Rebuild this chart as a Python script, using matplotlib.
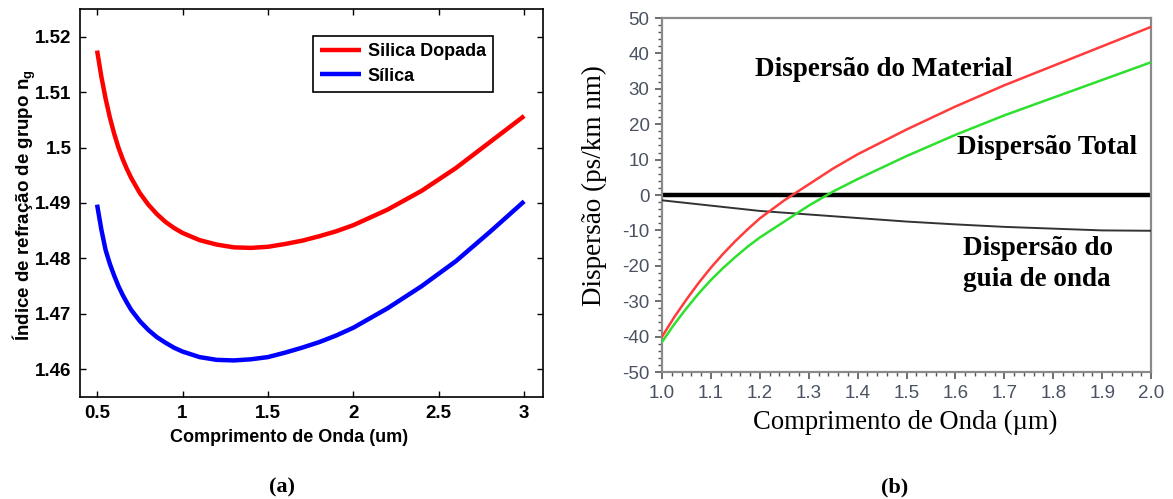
import numpy as np
import matplotlib
matplotlib.use("Agg")
import matplotlib.pyplot as plt
from matplotlib.ticker import MultipleLocator

# (a) group index vs wavelength
wl_a = [0.500, 0.525, 0.550, 0.575, 0.600, 0.625, 0.650, 0.675, 0.700, 0.750,
        0.800, 0.850, 0.900, 0.950, 1.00, 1.10, 1.20, 1.30, 1.40, 1.50, 1.60,
        1.70, 1.80, 1.90, 2.00, 2.20, 2.40, 2.60, 2.80, 3.00]
ng_dopada = [1.5175, 1.5128, 1.5088, 1.5054, 1.5025, 1.5000, 1.4979, 1.4961,
             1.4945, 1.4918, 1.4897, 1.4880, 1.4866, 1.4855, 1.4846, 1.4833,
             1.4825, 1.4820, 1.4819, 1.4821, 1.4826, 1.4832, 1.4840, 1.4849,
             1.4860, 1.4888, 1.4922, 1.4963, 1.5010, 1.5057]
ng_silica = [1.4897, 1.4852, 1.4815, 1.4790, 1.4769, 1.4750, 1.4734, 1.4720,
             1.4707, 1.4687, 1.4671, 1.4658, 1.4648, 1.4639, 1.4632, 1.4622,
             1.4617, 1.4616, 1.4618, 1.4622, 1.4630, 1.4639, 1.4649, 1.4661,
             1.4675, 1.4710, 1.4750, 1.4795, 1.4848, 1.4903]
yticks_a = [1.46, 1.47, 1.48, 1.49, 1.50, 1.51, 1.52]
yticklabels_a = ["1.46", "1.47", "1.48", "1.49", "1.5", "1.51", "1.52"]
xticks_a = [0.5, 1, 1.5, 2, 2.5, 3]
xticklabels_a = ["0.5", "1", "1.5", "2", "2.5", "3"]

# (b) dispersion vs wavelength
wl_b = [1.000, 1.025, 1.050, 1.075, 1.100, 1.125, 1.150, 1.175, 1.200, 1.250,
        1.300, 1.350, 1.400, 1.500, 1.600, 1.700, 1.800, 1.900, 2.000]
d_material = [-40.0, -34.5, -29.5, -24.8, -20.5, -16.6, -13.0, -9.7, -6.6,
              -1.5, 3.0, 7.5, 11.5, 18.5, 25.0, 31.0, 36.5, 42.0, 47.5]
d_total = [-41.5, -36.5, -32.0, -27.8, -24.0, -20.6, -17.5, -14.6, -12.0,
           -7.5, -3.0, 1.0, 4.5, 11.0, 17.0, 22.5, 27.5, 32.5, 37.5]
wl_guia = [1.0, 1.1, 1.2, 1.3, 1.4, 1.5, 1.6, 1.7, 1.8, 1.9, 2.0]
d_guia = [-1.5, -3.0, -4.5, -5.5, -6.5, -7.5, -8.3, -9.0, -9.5, -10.0, -10.1]
zero_level = 0

plt.rcParams["mathtext.fontset"] = "custom"
plt.rcParams["mathtext.rm"] = "Liberation Sans:bold"
plt.rcParams["mathtext.it"] = "Liberation Sans:bold"
plt.rcParams["axes.unicode_minus"] = False

fig = plt.figure(figsize=(11.73, 4.99), dpi=100)

# ---- panel (a)
ax1 = fig.add_axes([0.0682, 0.2044, 0.3947, 0.7776])
ax1.plot(wl_a, ng_dopada, color="#ff0000", lw=3.2, label="Silica Dopada",
         solid_capstyle="butt")
ax1.plot(wl_a, ng_silica, color="#0000ff", lw=3.2, label="Sílica",
         solid_capstyle="butt")
ax1.set_xlim(0.4, 3.11)
ax1.set_ylim(1.455, 1.525)
ax1.set_xticks(xticks_a)
ax1.set_xticklabels(xticklabels_a)
ax1.set_yticks(yticks_a)
ax1.set_yticklabels(yticklabels_a)
ax1.tick_params(direction="in", length=4, width=1, top=True, right=True,
                labelsize=13.5, pad=6)
for lab in ax1.get_xticklabels() + ax1.get_yticklabels():
    lab.set_fontfamily("Liberation Sans")
    lab.set_fontweight("bold")
for sp in ax1.spines.values():
    sp.set_linewidth(1.2)
ax1.set_xlabel("Comprimento de Onda (um)", fontsize=13, fontweight="bold",
               family="Liberation Sans")
ax1.xaxis.set_label_coords(0.451, -0.082)
ax1.set_ylabel("Índice de refração de grupo n$_g$", fontsize=13.5,
               fontweight="bold", family="Liberation Sans")
ax1.yaxis.set_label_coords(-0.09, 0.495)
leg = ax1.legend(loc="upper right", bbox_to_anchor=(0.892, 0.930),
                 prop={"family": "Liberation Sans", "weight": "bold", "size": 13},
                 handlelength=2.3, handletextpad=0.35, fancybox=False,
                 framealpha=1, edgecolor="black", borderpad=0.4,
                 labelspacing=0.4, borderaxespad=0)
leg.get_frame().set_linewidth(1.2)

# ---- panel (b)
ax2 = fig.add_axes([0.5644, 0.2545, 0.4169, 0.7094])
ax2.axhline(zero_level, color="black", lw=3.2, zorder=2)
ax2.plot(wl_guia, d_guia, color="#333333", lw=1.4, zorder=3)
ax2.plot(wl_b, d_material, color="#ff3b3b", lw=1.8, zorder=4)
ax2.plot(wl_b, d_total, color="#2ee02e", lw=1.8, zorder=4)
ax2.set_xlim(1.0, 2.0)
ax2.set_ylim(-50, 50)
ax2.xaxis.set_major_locator(MultipleLocator(0.1))
ax2.xaxis.set_minor_locator(MultipleLocator(0.02))
ax2.yaxis.set_major_locator(MultipleLocator(10))
ax2.yaxis.set_minor_locator(MultipleLocator(2))
ax2.xaxis.set_major_formatter(plt.FormatStrFormatter("%.1f"))
ax2.tick_params(which="major", direction="out", length=5, width=1.2,
                color="#555555", labelcolor="#4a5262", labelsize=13.5, pad=4)
ax2.tick_params(which="minor", direction="out", length=3, width=1,
                color="#555555")
for lab in ax2.get_xticklabels() + ax2.get_yticklabels():
    lab.set_fontfamily("Liberation Sans")
for sp in ax2.spines.values():
    sp.set_color("#8a8a8a")
    sp.set_linewidth(1.6)
ax2.set_xlabel("Comprimento de Onda (µm)", fontsize=19.2,
               family="Liberation Serif")
ax2.xaxis.set_label_coords(0.497, -0.107)
ax2.set_ylabel("Dispersão (ps/km nm)", fontsize=19.5, family="Liberation Serif")
ax2.yaxis.set_label_coords(-0.112, 0.528)

ann = {"family": "Liberation Serif", "weight": "bold", "fontsize": 19.5,
       "va": "center", "ha": "left"}
ax2.text(1.19, 35.5, "Dispersão do Material", **ann)
ax2.text(1.603, 13.3, "Dispersão Total", **ann)
ax2.text(1.616, -15.0, "Dispersão do", **ann)
ax2.text(1.616, -24.0, "guia de onda", **ann)

fig.text(0.240, 0.024, "(a)", fontsize=16, fontweight="bold",
         family="Liberation Serif", ha="center", va="center")
fig.text(0.763, 0.024, "(b)", fontsize=16, fontweight="bold",
         family="Liberation Serif", ha="center", va="center")

fig.savefig("out.png", dpi=100)
